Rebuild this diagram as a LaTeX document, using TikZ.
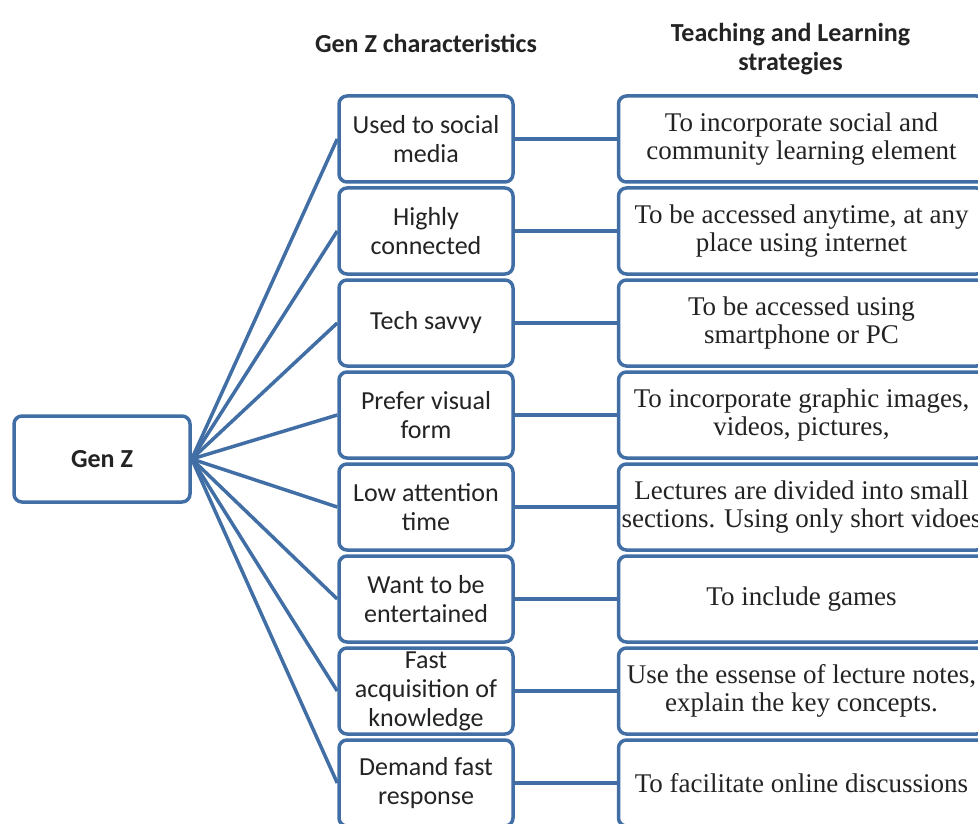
\documentclass[tikz,border=0pt]{standalone}
\usepackage{fontspec}
\setmainfont{Liberation Serif}
\setsansfont{Carlito}
\usepackage{tikz}
\usetikzlibrary{positioning}
\usepackage{xcolor}
\definecolor{steelblue}{RGB}{65,110,165}
\definecolor{inkgray}{RGB}{35,35,35}
\tikzset{
  block/.style={rectangle, rounded corners=8pt, draw=steelblue, line width=3.5pt, fill=white,
                minimum width=174pt, minimum height=86pt, align=center, text=inkgray,
                font=\sffamily\fontsize{26}{29}\selectfont, inner sep=2pt},
  blockwide/.style={block, minimum width=366pt, font=\rmfamily\fontsize{27}{28}\selectfont},
  link/.style={line width=3.5pt, steelblue},
  heading/.style={font=\sffamily\bfseries\fontsize{26}{29}\selectfont, align=center, text=inkgray},
}
\begin{document}
\begin{tikzpicture}[x=1pt, y=1pt, node distance=2.5pt and 102pt]
\clip (0,0) rectangle (978,-824);
\node[block, minimum width=176pt] (g) at (102,-459) {\textbf{Gen Z}};

\node[block] (c1) at (426,-139) {Used to social\\media};
\node[block, below=of c1] (c2) {Highly\\connected};
\node[block, below=of c2] (c3) {Tech savvy};
\node[block, below=of c3] (c4) {Prefer visual\\form};
\node[block, below=of c4] (c5) {Low attention\\time};
\node[block, below=of c5] (c6) {Want to be\\entertained};
\node[block, below=of c6] (c7) {Fast\\acquisition of\\knowledge};
\node[block, below=of c7] (c8) {Demand fast\\response};

\node[blockwide, right=of c1] (s1) {To incorporate social and\\community learning element};
\node[blockwide, right=of c2] (s2) {To be accessed anytime, at any\\place using internet};
\node[blockwide, right=of c3] (s3) {To be accessed using\\smartphone or PC};
\node[blockwide, right=of c4] (s4) {To incorporate graphic images,\\videos, pictures,};
\node[blockwide, right=of c5] (s5) {Lectures are divided into small\\sections. Using only short vidoes};
\node[blockwide, right=of c6] (s6) {To include games};
\node[blockwide, right=of c7] (s7) {Use the essense of lecture notes,\\explain the key concepts.};
\node[blockwide, right=of c8] (s8) {To facilitate online discussions};

\foreach \i in {1,...,8}
  \draw[link] (g.east) -- (c\i.west);
\foreach \i in {1,...,8}
  \draw[link] (c\i) -- (s\i);

\node[heading, above=38pt of c1] (h1) {Gen Z characteristics};
\node[heading, above=16pt of s1, xshift=-11pt] (h2) {Teaching and Learning\\strategies};
\end{tikzpicture}
\end{document}
